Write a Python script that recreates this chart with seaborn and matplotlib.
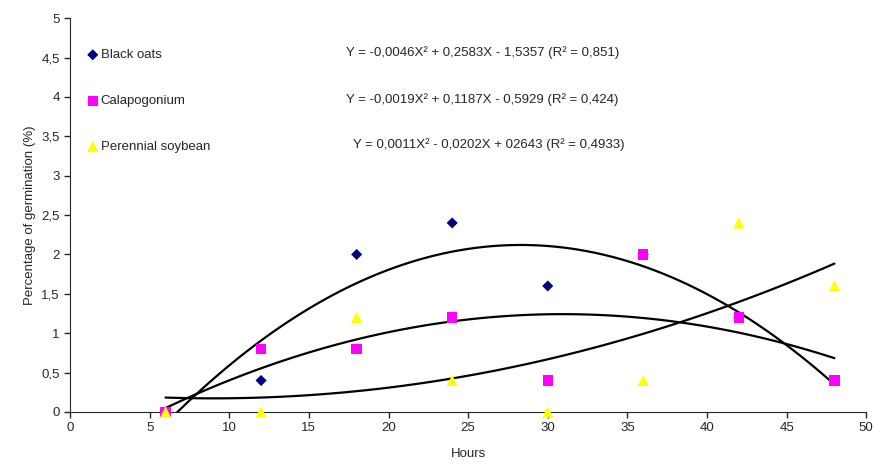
import numpy as np
import pandas as pd
import matplotlib
matplotlib.use("Agg")
import matplotlib.pyplot as plt
import seaborn as sns

# germination readings (hours vs % germination)
hours = [6, 12, 18, 24, 30, 36, 42, 48]
black_oats = [0, 0.4, 2.0, 2.4, 1.6, 2.0, 1.2, 0.4]
calapogonium = [0, 0.8, 0.8, 1.2, 0.4, 2.0, 1.2, 0.4]
perennial_soybean = [0, 0, 1.2, 0.4, 0, 0.4, 2.4, 1.6]

series_names = ["Black oats", "Calapogonium", "Perennial soybean"]
equations = ["Y = -0,0046X\u00b2 + 0,2583X - 1,5357 (R\u00b2 = 0,851)",
             "Y = -0,0019X\u00b2 + 0,1187X - 0,5929 (R\u00b2 = 0,424)",
             "Y = 0,0011X\u00b2 - 0,0202X + 02643 (R\u00b2 = 0,4933)"]
y_ticks = [0, 0.5, 1, 1.5, 2, 2.5, 3, 3.5, 4, 4.5, 5]
x_ticks = [0, 5, 10, 15, 20, 25, 30, 35, 40, 45, 50]

sns.set_style("ticks")
plt.rcParams['font.family'] = ['Liberation Sans', 'DejaVu Sans']

df = pd.DataFrame({"hours": hours * 3,
                   "germ": black_oats + calapogonium + perennial_soybean,
                   "crop": np.repeat(series_names, len(hours))})

fig = plt.figure(figsize=(8.75, 4.65), dpi=100)
ax = fig.add_axes([0.08, 0.114, 0.91, 0.847])

styles = {"Black oats": ("D", "#000080", 32),
          "Calapogonium": ("s", "#FF00FF", 55),
          "Perennial soybean": ("^", "#FFFF00", 65)}

#quadratic trend lines, same as the excel ones
for name in series_names:
    sub = df[df.crop == name]
    sns.regplot(data=sub, x="hours", y="germ", order=2, ci=None,
                scatter=False, ax=ax,
                line_kws={"color": "black", "lw": 1.6, "zorder": 2})

for name in series_names:
    sub = df[df.crop == name]
    m, c, s = styles[name]
    sns.scatterplot(data=sub, x="hours", y="germ", marker=m, color=c,
                    s=s, edgecolor="none", ax=ax, label=name,
                    zorder=3, clip_on=False)

ax.set_xlim(0, 50)
ax.set_ylim(0, 5)
ax.set_xticks(x_ticks)
ax.set_yticks(y_ticks)
ax.set_yticklabels([("%g" % v).replace(".", ",") for v in y_ticks])
ax.tick_params(labelsize=9.5, length=4, width=1)
ax.set_xlabel("Hours", fontsize=9.5, labelpad=10)
ax.set_ylabel("Percentage of germination (%)", fontsize=9.5)
sns.despine(ax=ax)

leg = ax.legend(loc="upper left", bbox_to_anchor=(0.012, 0.935),
                frameon=False, fontsize=9.5, labelspacing=2.55,
                handletextpad=0.0, handlelength=1.2, borderaxespad=0)

#equations next to the legend rows
eq_x = [17.3, 17.3, 17.8]
eq_y = [4.56, 3.96, 3.39]
for xx, yy, txt in zip(eq_x, eq_y, equations):
    ax.text(xx, yy, txt, fontsize=9.5, va="center", ha="left")

fig.savefig("out.png", dpi=100)
